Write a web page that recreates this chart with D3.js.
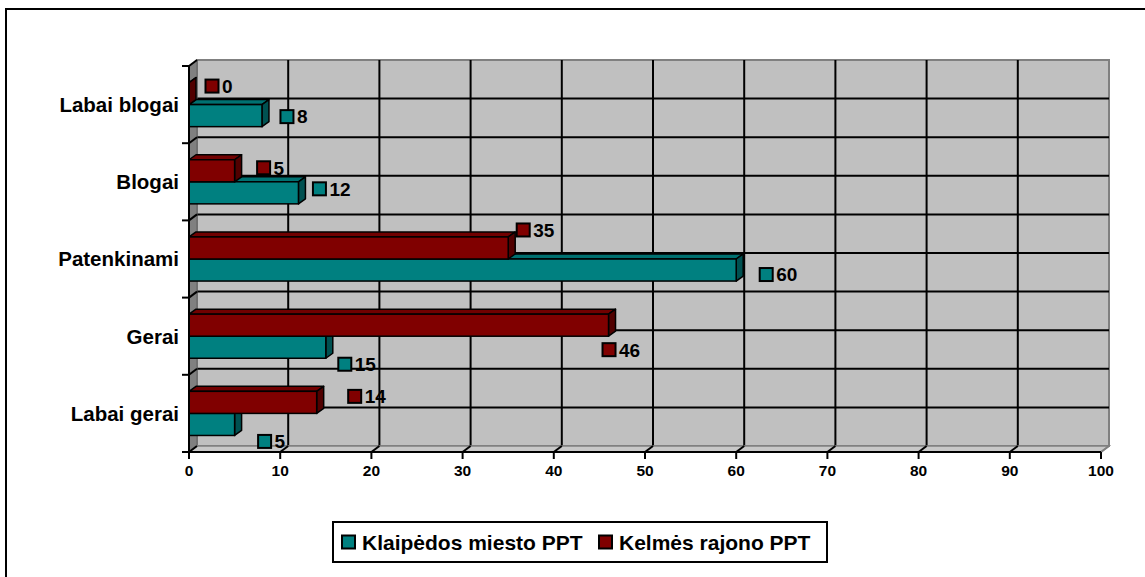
<!DOCTYPE html>
<html>
<head>
<meta charset="utf-8">
<script src="https://cdn.jsdelivr.net/npm/d3@7"></script>
<style>
  body { margin: 0; background: #fff; }
  svg text { font-family: "Liberation Sans", Arial, sans-serif; font-weight: bold; fill: #000; }
</style>
</head>
<body>
<script>
// data, top category first
var categories = ["Labai blogai", "Blogai", "Patenkinami", "Gerai", "Labai gerai"];
var seriesNames = ["Klaipėdos miesto PPT", "Kelmės rajono PPT"];
var klaipeda = [8, 12, 60, 15, 5];
var kelme = [0, 5, 35, 46, 14];
var valueTicks = [0, 10, 20, 30, 40, 50, 60, 70, 80, 90, 100];

var colors = ["#008080", "#800000"];
// data labels were dragged around in the original, so nudge them (px from bar end / bar middle)
var labelNudgeKlaipeda = [[25, 1], [21, -4], [30, 4.5], [19, 17], [30, 17]];
var labelNudgeKelme = [[23, -7.5], [29, -3], [15, -18], [0.5, 24.5], [38, -6]];

var width = 1145, height = 577;
var svg = d3.select("body").append("svg").attr("width", width).attr("height", height);

// chart border (only top + left are inside the picture)
svg.append("rect").attr("x", 6).attr("y", 9).attr("width", 1160).attr("height", 600)
  .attr("fill", "#fff").attr("stroke", "#000").attr("stroke-width", 2);

var x = d3.scaleLinear().domain([0, 100]).range([189, 1101]);
var y = d3.scaleBand().domain(categories).range([66, 452]);
var inner = d3.scaleBand().domain(["kelme", "klaipeda"]).range([0, y.bandwidth()]).paddingInner(0).paddingOuter(0.75);

var wdx = 8, wdy = -6;   // wall depth
var bdx = 7, bdy = -5;   // bar depth
var plotTop = y.range()[0], plotBottom = y.range()[1];

// back wall
svg.append("rect").attr("x", x(0) + wdx).attr("y", plotTop + wdy)
  .attr("width", x(100) - x(0)).attr("height", plotBottom - plotTop)
  .attr("fill", "#c0c0c0").attr("stroke", "#808080").attr("stroke-width", 2);

// vertical gridlines on back wall
svg.selectAll(".vgrid").data(valueTicks.slice(1, -1)).enter().append("line")
  .attr("x1", function(d) { return x(d) + wdx; }).attr("x2", function(d) { return x(d) + wdx; })
  .attr("y1", plotTop + wdy).attr("y2", plotBottom + wdy)
  .attr("stroke", "#000").attr("stroke-width", 2);

// horizontal gridlines: category boundaries and middles
var hLines = [];
categories.forEach(function(c, i) {
  if (i > 0) hLines.push(y(c));
  hLines.push(y(c) + y.bandwidth() / 2);
});
svg.selectAll(".hgrid").data(hLines).enter().append("line")
  .attr("x1", x(0) + wdx).attr("x2", x(100) + wdx)
  .attr("y1", function(d) { return d + wdy; }).attr("y2", function(d) { return d + wdy; })
  .attr("stroke", "#000").attr("stroke-width", 2);

// left wall
svg.append("polygon")
  .attr("points", [[x(0), plotTop], [x(0) + wdx, plotTop + wdy], [x(0) + wdx, plotBottom + wdy], [x(0), plotBottom]].join(" "))
  .attr("fill", "#808080").attr("stroke", "#606060").attr("stroke-width", 1);

// floor
svg.append("polygon")
  .attr("points", [[x(0), plotBottom], [x(100), plotBottom], [x(100) + wdx, plotBottom + wdy], [x(0) + wdx, plotBottom + wdy]].join(" "))
  .attr("fill", "#c8c8c8").attr("stroke", "#808080").attr("stroke-width", 1.5);
svg.append("line").attr("x1", x(100)).attr("y1", plotBottom).attr("x2", x(100) + wdx).attr("y2", plotBottom + wdy)
  .attr("stroke", "#808080").attr("stroke-width", 2);

// diagonal tick marks on the floor and left wall
svg.selectAll(".fdiag").data(valueTicks.slice(1, -1)).enter().append("line")
  .attr("x1", function(d) { return x(d); }).attr("y1", plotBottom)
  .attr("x2", function(d) { return x(d) + wdx; }).attr("y2", plotBottom + wdy)
  .attr("stroke", "#000").attr("stroke-width", 2);
var catBounds = categories.map(function(c) { return y(c); }).concat([plotBottom]);
svg.selectAll(".wdiag").data(catBounds).enter().append("line")
  .attr("x1", x(0)).attr("y1", function(d) { return d; })
  .attr("x2", x(0) + wdx).attr("y2", function(d) { return d + wdy; })
  .attr("stroke", "#000").attr("stroke-width", 2);

// 3D bars
function bar(g, val, y0, h, col) {
  var x0 = x(0), x1 = x(val);
  var c = d3.color(col);
  g.append("polygon")
    .attr("points", [[x0, y0], [x0 + bdx, y0 + bdy], [x1 + bdx, y0 + bdy], [x1, y0]].join(" "))
    .attr("fill", c.darker(0.35)).attr("stroke", "#000").attr("stroke-width", 1.5).attr("stroke-linejoin", "round");
  g.append("polygon")
    .attr("points", [[x1, y0], [x1 + bdx, y0 + bdy], [x1 + bdx, y0 + h + bdy], [x1, y0 + h]].join(" "))
    .attr("fill", c.darker(1.3)).attr("stroke", "#000").attr("stroke-width", 1.5).attr("stroke-linejoin", "round");
  g.append("rect").attr("x", x0).attr("y", y0).attr("width", x1 - x0).attr("height", h)
    .attr("fill", col).attr("stroke", "#000").attr("stroke-width", 1.5);
}

var bars = svg.append("g");
categories.forEach(function(c, i) {
  // lower bar first so the upper one covers its top face
  bar(bars, klaipeda[i], y(c) + inner("klaipeda"), inner.bandwidth(), colors[0]);
  bar(bars, kelme[i], y(c) + inner("kelme"), inner.bandwidth(), colors[1]);
});

// axes lines
svg.append("line").attr("x1", x(0)).attr("x2", x(0)).attr("y1", plotTop).attr("y2", plotBottom)
  .attr("stroke", "#000").attr("stroke-width", 2);
svg.append("line").attr("x1", x(0)).attr("x2", x(100)).attr("y1", plotBottom).attr("y2", plotBottom)
  .attr("stroke", "#000").attr("stroke-width", 2);

// value axis ticks + labels
svg.selectAll(".xtick").data(valueTicks).enter().append("line")
  .attr("x1", function(d) { return x(d); }).attr("x2", function(d) { return x(d); })
  .attr("y1", plotBottom).attr("y2", plotBottom + 7)
  .attr("stroke", "#000").attr("stroke-width", 2);
svg.selectAll(".xlab").data(valueTicks).enter().append("text")
  .attr("x", function(d) { return x(d); }).attr("y", 471).attr("dy", "0.35em")
  .attr("text-anchor", "middle").style("font-size", "15.5px")
  .text(function(d) { return d; });

// category ticks + labels
svg.selectAll(".ytick").data(catBounds).enter().append("line")
  .attr("x1", x(0) - 7).attr("x2", x(0))
  .attr("y1", function(d) { return d; }).attr("y2", function(d) { return d; })
  .attr("stroke", "#000").attr("stroke-width", 2);
svg.selectAll(".ylab").data(categories).enter().append("text")
  .attr("x", 179).attr("y", function(d) { return y(d) + y.bandwidth() / 2; }).attr("dy", "0.36em")
  .attr("text-anchor", "end").style("font-size", "20.5px")
  .text(function(d) { return d; });

// data labels with legend keys
function dataLabels(vals, nudge, key, col) {
  vals.forEach(function(v, i) {
    var cx = x(v) + nudge[i][0];
    var cy = y(categories[i]) + inner(key) + inner.bandwidth() / 2 + nudge[i][1];
    svg.append("rect").attr("x", cx - 6.5).attr("y", cy - 6.5).attr("width", 13).attr("height", 13)
      .attr("fill", col).attr("stroke", "#000").attr("stroke-width", 2);
    svg.append("text").attr("x", cx + 10).attr("y", cy).attr("dy", "0.36em")
      .style("font-size", "19px").text(v);
  });
}
dataLabels(klaipeda, labelNudgeKlaipeda, "klaipeda", colors[0]);
dataLabels(kelme, labelNudgeKelme, "kelme", colors[1]);

// legend
var legend = svg.append("g");
legend.append("rect").attr("x", 333).attr("y", 522).attr("width", 494).attr("height", 40)
  .attr("fill", "#fff").attr("stroke", "#000").attr("stroke-width", 2);
var legendX = [342, 599];
seriesNames.forEach(function(name, i) {
  legend.append("rect").attr("x", legendX[i]).attr("y", 535.5).attr("width", 13).attr("height", 13)
    .attr("fill", colors[i]).attr("stroke", "#000").attr("stroke-width", 2);
  legend.append("text").attr("x", legendX[i] + 20).attr("y", 542).attr("dy", "0.36em")
    .style("font-size", "21px").text(name);
});
</script>
</body>
</html>
